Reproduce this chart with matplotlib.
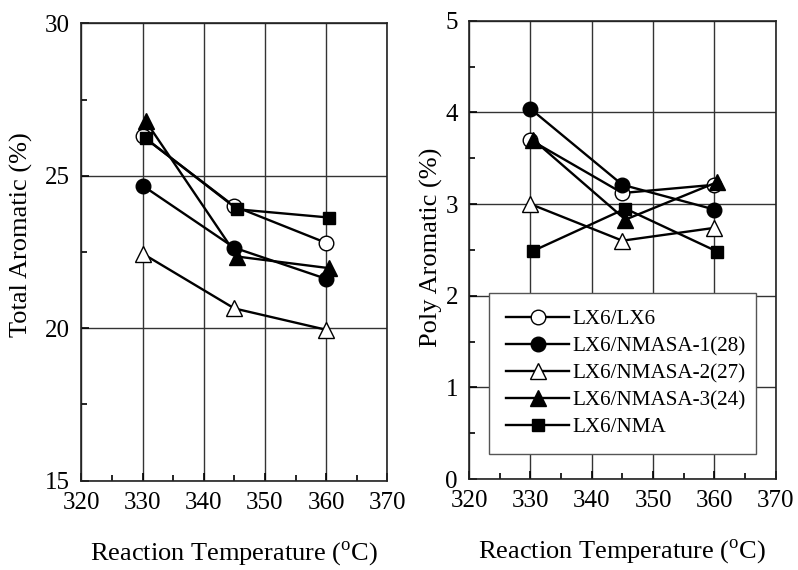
import matplotlib
matplotlib.use("Agg")
import matplotlib.pyplot as plt
from matplotlib.ticker import MultipleLocator

plt.rcParams['font.family'] = ['Liberation Serif', 'DejaVu Serif']
plt.rcParams['mathtext.fontset'] = 'custom'
plt.rcParams['mathtext.rm'] = 'Liberation Serif'

# data
temp = [330, 345, 360]
labels = ['LX6/LX6', 'LX6/NMASA-1(28)', 'LX6/NMASA-2(27)', 'LX6/NMASA-3(24)', 'LX6/NMA']
total_lx6 = [26.3, 24.0, 22.8]
total_nmasa1 = [24.68, 22.64, 21.62]
total_nmasa2 = [22.45, 20.65, 19.95]
total_nmasa3 = [26.8, 22.35, 21.97]
total_nma = [26.23, 23.9, 23.63]
poly_lx6 = [3.70, 3.12, 3.21]
poly_nmasa1 = [4.04, 3.21, 2.94]
poly_nmasa2 = [3.0, 2.60, 2.74]
poly_nmasa3 = [3.70, 2.83, 3.24]
poly_nma = [2.49, 2.95, 2.48]

# small x offsets as in the original (markers slightly shifted)
x_off = [0, 0, 0, 0.5, 0.5]

styles = [('o', 'white', 10.5), ('o', 'black', 10.5), ('^', 'white', 11.5),
          ('^', 'black', 11.5), ('s', 'black', 9)]

fig = plt.figure(figsize=(7.98, 5.70), dpi=100)
W, H = 798, 570
ax1 = fig.add_axes([81.3/W, (H-480.7)/H, (387.3-81.3)/W, (480.7-23.3)/H])
ax2 = fig.add_axes([469/W, (H-479)/H, (775.7-469)/W, (479-20.7)/H])

total = [total_lx6, total_nmasa1, total_nmasa2, total_nmasa3, total_nma]
poly = [poly_lx6, poly_nmasa1, poly_nmasa2, poly_nmasa3, poly_nma]

for ax, series in [(ax1, total), (ax2, poly)]:
    for i, ys in enumerate(series):
        m, fc, ms = styles[i]
        xs = [t + x_off[i] for t in temp]
        ax.plot(xs, ys, color='black', lw=1.7, marker=m, markersize=ms,
                markerfacecolor=fc, markeredgecolor='black', markeredgewidth=1.0,
                label=labels[i], zorder=3)

for ax in (ax1, ax2):
    ax.set_xlim(320, 370)
    ax.xaxis.set_major_locator(MultipleLocator(10))
    ax.xaxis.set_minor_locator(MultipleLocator(5))
    ax.grid(True, which='major', color='#333333', lw=1.0, zorder=0)
    ax.tick_params(which='both', direction='in', labelsize=18, width=1.2,
                   top=False, right=False)
    ax.tick_params(which='major', length=6, pad=8)
    ax.tick_params(which='minor', length=4)
    for s in ax.spines.values():
        s.set_linewidth(1.2)
        s.set_color('#222222')
    ax.set_xlabel(r'Reaction Temperature ($^{\mathrm{o}}$C)', fontsize=19, labelpad=18)

ax1.set_ylim(15, 30)
ax1.yaxis.set_major_locator(MultipleLocator(5))
ax1.yaxis.set_minor_locator(MultipleLocator(2.5))
ax1.set_ylabel('Total Aromatic (%)', fontsize=19)
ax1.yaxis.set_label_coords(-0.158, 0.537)

ax2.set_ylim(0, 5)
ax2.yaxis.set_major_locator(MultipleLocator(1))
ax2.yaxis.set_minor_locator(MultipleLocator(0.5))
ax2.set_ylabel('Poly Aromatic (%)', fontsize=19)
ax2.yaxis.set_label_coords(-0.085, 0.506)

leg = ax2.legend(loc='lower left', bbox_to_anchor=(0.066, 0.0546, 0.87, 0.35),
                 mode='expand', fontsize=15.2, frameon=True, fancybox=False,
                 framealpha=1, edgecolor='#555555', handlelength=3.0,
                 handletextpad=0.15, labelspacing=0.34, borderpad=0.8,
                 borderaxespad=0)
leg.get_frame().set_linewidth(1.0)
leg.set_zorder(5)

fig.savefig('out.png', dpi=100)
